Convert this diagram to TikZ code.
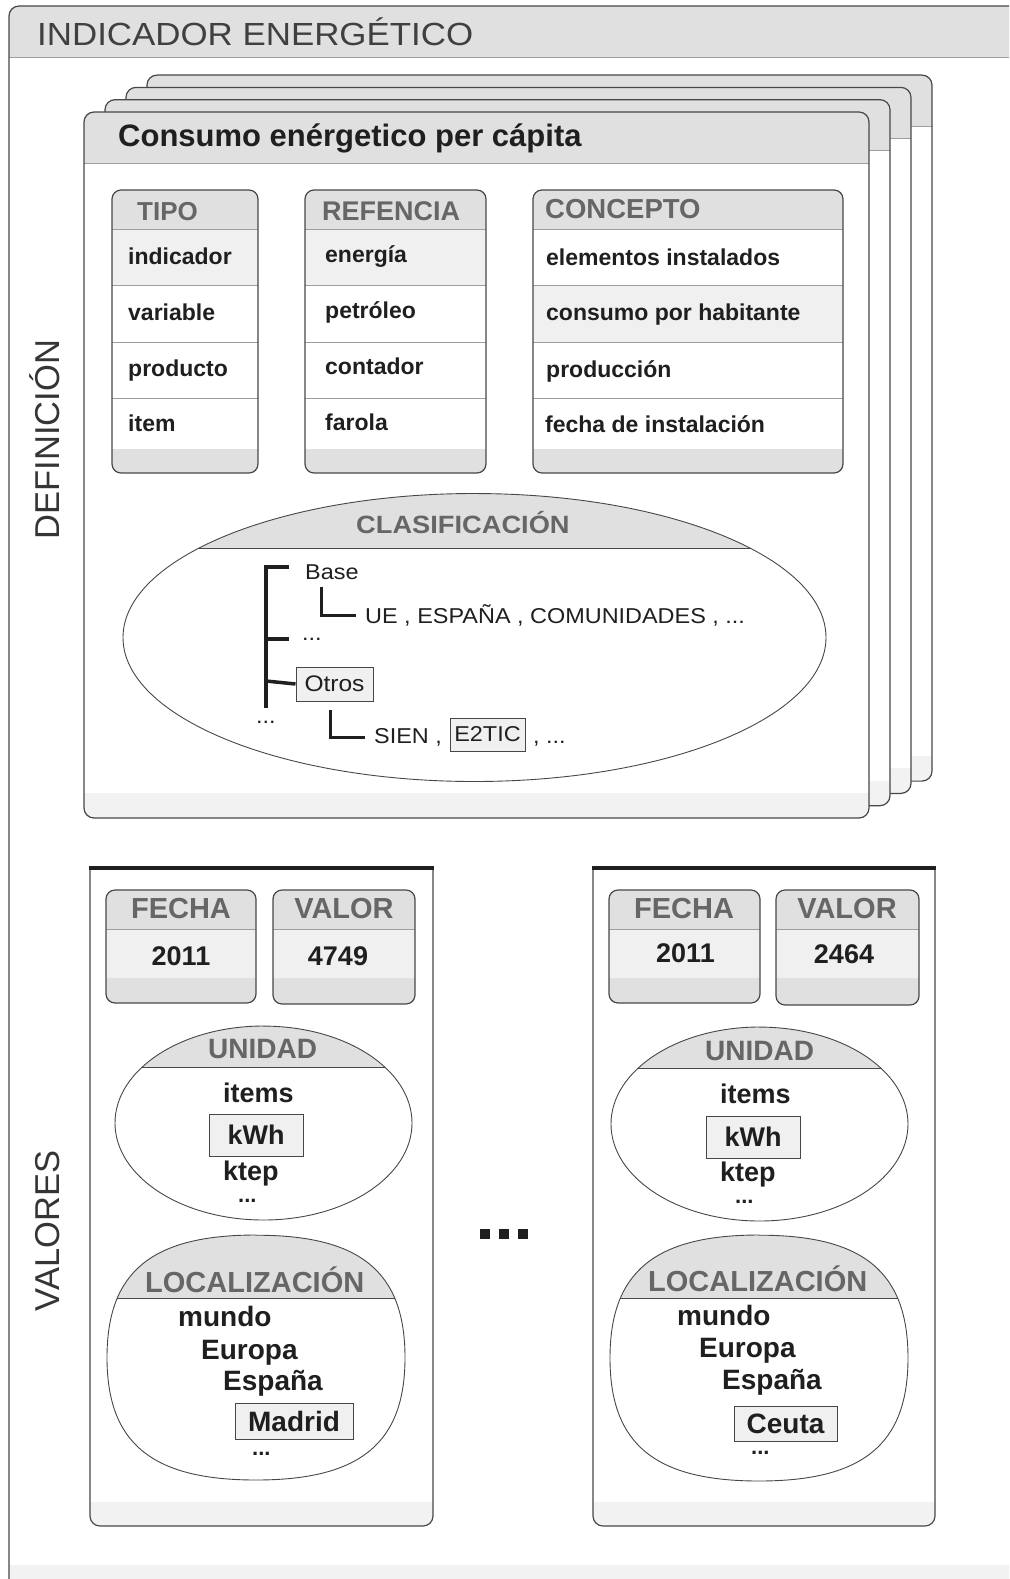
\documentclass[tikz,border=0pt]{standalone}
\usepackage{fontspec}
\setmainfont{Liberation Sans}
\newfontfamily\widefont[FakeStretch=1.09]{Liberation Sans}
\newcommand\fsz[1]{\fontsize{#1}{#1}\selectfont}

\definecolor{band}{gray}{0.88}
\definecolor{lightrow}{gray}{0.94}
\definecolor{foot}{gray}{0.95}
\definecolor{edge}{gray}{0.28}
\definecolor{sepgray}{gray}{0.62}
\definecolor{headgray}{gray}{0.40}
\definecolor{ink}{gray}{0.12}

% rounded table: left, right, highlighted row top, highlighted row bottom
\newcommand\tablebox[4]{%
  \begin{scope}
    \clip[rounded corners=9pt] (#1,190) rectangle (#2,473);
    \fill[white] (#1,190) rectangle (#2,473);
    \fill[band] (#1,190) rectangle (#2,229);
    \fill[lightrow] (#1,#3) rectangle (#2,#4);
    \fill[band] (#1,449) rectangle (#2,473);
  \end{scope}
  \foreach \yy in {229,285,342,398} \draw[sepline] (#1,\yy) -- (#2,\yy);
  \draw[frame, rounded corners=9pt] (#1,190) rectangle (#2,473);
}

% small value table: left, right, bottom
\newcommand\valuebox[3]{%
  \begin{scope}
    \clip[rounded corners=9pt] (#1,890) rectangle (#2,#3);
    \fill[band] (#1,890) rectangle (#2,929);
    \fill[lightrow] (#1,929) rectangle (#2,978);
    \fill[band] (#1,978) rectangle (#2,#3);
  \end{scope}
  \draw[sepline] (#1,929) -- (#2,929);
  \draw[frame, rounded corners=9pt] (#1,890) rectangle (#2,#3);
}

% open-topped value panel: left, right
\newcommand\valuepanel[2]{%
  \begin{scope}
    \clip[rounded corners=10pt] (#1,860) rectangle (#2,1526);
    \fill[white] (#1,860) rectangle (#2,1526);
    \fill[foot] (#1,1502) rectangle (#2,1526);
  \end{scope}
  \draw[frame, rounded corners=10pt] (#1,868) -- (#1,1526) -- (#2,1526) -- (#2,868);
  \draw[draw=ink, line width=3.5pt] (#1-1,868) -- (#2+1,868);
}

% oval with a grey title cap: name, cx, cy, rx, ry, kappa, cap line y
\newcommand\capoval[7]{%
  \coordinate (#1) at (#2,#3);
  \begin{scope}[shift={(#2,#3)}, xscale=#4, yscale=#5]
    \fill[white] (0,-1) .. controls (-#6,-1) and (-1,-#6) .. (-1,0)
      .. controls (-1,#6) and (-#6,1) .. (0,1)
      .. controls (#6,1) and (1,#6) .. (1,0)
      .. controls (1,-#6) and (#6,-1) .. cycle;
    \begin{scope}
      \clip (0,-1) .. controls (-#6,-1) and (-1,-#6) .. (-1,0)
        .. controls (-1,#6) and (-#6,1) .. (0,1)
        .. controls (#6,1) and (1,#6) .. (1,0)
        .. controls (1,-#6) and (#6,-1) .. cycle;
      \fill[band] (-1.2,-1.2) rectangle (1.2,{(#7-#3)/#5});
      \draw[edge, line width=1pt] (-1.2,{(#7-#3)/#5}) -- (1.2,{(#7-#3)/#5});
    \end{scope}
    \draw[edge, line width=0.9pt] (0,-1) .. controls (-#6,-1) and (-1,-#6) .. (-1,0)
      .. controls (-1,#6) and (-#6,1) .. (0,1)
      .. controls (#6,1) and (1,#6) .. (1,0)
      .. controls (1,-#6) and (#6,-1) .. cycle;
  \end{scope}
}

\begin{document}
\begin{tikzpicture}[x=1pt, y=-1pt,
  frame/.style={draw=edge, line width=1.2pt},
  sepline/.style={draw=sepgray, line width=0.9pt},
  lbl/.style={inner sep=0, anchor=base west, text=ink},
  rowtxt/.style={lbl, font=\bfseries\fsz{23}},
  valtxt/.style={lbl, font=\bfseries\fsz{27}},
  loctxt/.style={lbl, font=\bfseries\fsz{28}},
  headtxt/.style={inner sep=0, anchor=base west, text=headgray, font=\bfseries\fsz{#1}},
  cltxt/.style={lbl, font=\widefont\fsz{21.5}},
  markbox/.style={draw=edge, fill=lightrow, line width=1pt, inner sep=0},
  tree/.style={draw=ink, line width=3.5pt},
  treethin/.style={draw=ink, line width=3pt},
  sidetxt/.style={inner sep=0, rotate=90, anchor=base, text=ink!90, font=\fsz{34.5}}
]
\useasboundingbox (0,0) rectangle (1009,1579);
\clip (0,0) rectangle (1009,1579);

% ---------- outer panel ----------
\begin{scope}
  \clip[rounded corners=10pt] (9,6) rectangle (1040,1610);
  \fill[white] (9,6) rectangle (1040,1610);
  \fill[band] (9,6) rectangle (1040,57);
  \fill[foot] (9,1565) rectangle (1040,1610);
\end{scope}
\draw[sepline] (9,57) -- (1040,57);
\draw[frame, rounded corners=10pt] (9,6) rectangle (1040,1610);
\node[lbl, text=ink!85, font=\widefont\fsz{32}] (maintitle) at (37,46) {INDICADOR ENERGÉTICO};

\node[sidetxt] (definicion) at (59,439.5) {DEFINICIÓN};
\node[sidetxt] (valores) at (59,1231) {VALORES};

% ---------- stack of definition cards ----------
\foreach \k in {3,2,1,0} {
  \begin{scope}[shift={(21*\k,-12.3*\k)}]
    \begin{scope}
      \clip[rounded corners=10pt] (84,112) rectangle (869,818);
      \fill[white] (84,112) rectangle (869,818);
      \fill[band] (84,112) rectangle (869,163);
      \fill[foot] (84,793) rectangle (869,818);
    \end{scope}
    \draw[sepline] (84,163) -- (869,163);
    \draw[frame, rounded corners=10pt] (84,112) rectangle (869,818);
  \end{scope}
}
\node[lbl, font=\bfseries\fsz{31}] (cardtitle) at (118,146) {Consumo enérgetico per cápita};

% ---------- attribute tables ----------
\tablebox{112}{258}{229}{285}
\tablebox{305}{486}{229}{285}
\tablebox{533}{843}{285}{342}

\node[headtxt=26] (tipo) at (137,220) {TIPO};
\node[rowtxt] (t1) at (128,264) {indicador};
\node[rowtxt] (t2) at (128,320) {variable};
\node[rowtxt] (t3) at (128,376) {producto};
\node[rowtxt] (t4) at (128,431) {item};

\node[headtxt=27] (refencia) at (322,220) {REFENCIA};
\node[rowtxt] (r1) at (325,262) {energía};
\node[rowtxt] (r2) at (325,318) {petróleo};
\node[rowtxt] (r3) at (325,374) {contador};
\node[rowtxt] (r4) at (325,430) {farola};

\node[headtxt=27.5] (concepto) at (545,218) {CONCEPTO};
\node[rowtxt] (c1) at (546,265) {elementos instalados};
\node[rowtxt] (c2) at (546,320) {consumo por habitante};
\node[rowtxt] (c3) at (546,377) {producción};
\node[rowtxt] (c4) at (545,432) {fecha de instalación};

% ---------- classification ----------
\capoval{clas}{474.5}{637.5}{351.5}{144}{0.5523}{548}
\node[lbl, text=headgray, font=\widefont\bfseries\fsz{25}] (clastitle) at (356,533) {CLASIFICACIÓN};

\node[cltxt] (base) at (305,579) {Base};
\node[cltxt] (ue) at (365,623) {UE , ESPAÑA , COMUNIDADES , ...};
\node[cltxt] (dots1) at (302,640) {...};
\node[markbox, minimum width=77pt, minimum height=34pt, font=\widefont\fsz{22.5}, text=ink] (otros) at (334.5,684) {Otros};
\node[cltxt] (dots2) at (256,723) {...};
\node[cltxt] (sien) at (374,743) {SIEN ,};
\node[markbox, minimum width=75pt, minimum height=33pt, font=\widefont\fsz{21.5}, text=ink] (e2tic) at (487.5,734.5) {E2TIC};
\node[cltxt] (dots3) at (533,743) {, ...};

\coordinate (trunkA) at (289,567);
\coordinate (trunkTop) at (266,567);
\coordinate (trunkBot) at (266,708);
\coordinate (trunkMid) at (266,639);
\coordinate (trunkMidEnd) at (289,639);
\coordinate (trunkLow) at (266,681);
\draw[tree] (trunkA) -- (trunkTop) -- (trunkBot);
\draw[tree] (trunkMid) -- (trunkMidEnd);
\draw[tree] (trunkLow) -- (otros.west);

\coordinate (baseA) at (321,587);
\coordinate (baseB) at (321,615);
\coordinate (baseC) at (356,615);
\draw[treethin] (baseA) -- (baseB) -- (baseC);
\coordinate (otrosA) at (330,710);
\coordinate (otrosB) at (330,737);
\coordinate (otrosC) at (365,737);
\draw[treethin] (otrosA) -- (otrosB) -- (otrosC);

% ---------- value panels ----------
\valuepanel{90}{433}
\valuepanel{593}{935}

\valuebox{106}{256}{1003}
\valuebox{273}{415}{1004}
\valuebox{609}{760}{1003}
\valuebox{776}{919}{1005}

\node[headtxt=29, anchor=base] (fechaL) at (181,918) {FECHA};
\node[headtxt=29, anchor=base] (valorL) at (344,918) {VALOR};
\node[valtxt, anchor=base] (anioL) at (181,965) {2011};
\node[valtxt, anchor=base] (cifraL) at (338,965) {4749};

\node[headtxt=29, anchor=base] (fechaR) at (684,918) {FECHA};
\node[headtxt=29, anchor=base] (valorR) at (847,918) {VALOR};
\node[valtxt, anchor=base] (anioR) at (685.5,962) {2011};
\node[valtxt, anchor=base] (cifraR) at (844,963) {2464};

% units
\capoval{unidL}{263.5}{1123}{148.5}{97}{0.5523}{1067}
\capoval{unidR}{759.5}{1124}{148.5}{97}{0.5523}{1068}

\node[headtxt=28] (unidadL) at (208,1058) {UNIDAD};
\node[valtxt] (itemsL) at (223,1102) {items};
\node[markbox, minimum width=94pt, minimum height=42pt, font=\bfseries\fsz{27}, text=ink] (kwhL) at (256,1135) {kWh};
\node[valtxt] (ktepL) at (223,1180) {ktep};
\node[lbl, font=\bfseries\fsz{22}] (udotsL) at (238,1202) {...};

\node[headtxt=28] (unidadR) at (705,1060) {UNIDAD};
\node[valtxt] (itemsR) at (720,1103) {items};
\node[markbox, minimum width=94pt, minimum height=42pt, font=\bfseries\fsz{27}, text=ink] (kwhR) at (753,1137) {kWh};
\node[valtxt] (ktepR) at (720,1181) {ktep};
\node[lbl, font=\bfseries\fsz{22}] (udotsR) at (735,1203) {...};

% locations
\capoval{locL}{256}{1357.5}{149}{122.5}{0.7}{1298}
\capoval{locR}{759}{1358}{149}{123}{0.7}{1298}

\node[headtxt=29] (localL) at (145,1292) {LOCALIZACIÓN};
\node[loctxt] (mundoL) at (178,1326) {mundo};
\node[loctxt] (europaL) at (201,1359) {Europa};
\node[loctxt] (espanaL) at (223,1390) {España};
\node[markbox, minimum width=118pt, minimum height=36pt, font=\bfseries\fsz{28}, text=ink] (madrid) at (294,1421) {Madrid};
\node[lbl, font=\bfseries\fsz{22}] (ldotsL) at (252,1455) {...};

\node[headtxt=29] (localR) at (648,1291) {LOCALIZACIÓN};
\node[loctxt] (mundoR) at (677,1325) {mundo};
\node[loctxt] (europaR) at (699,1357) {Europa};
\node[loctxt] (espanaR) at (722,1389) {España};
\node[markbox, minimum width=103pt, minimum height=35pt, font=\bfseries\fsz{28}, text=ink] (ceuta) at (785.5,1423.5) {Ceuta};
\node[lbl, font=\bfseries\fsz{22}] (ldotsR) at (751,1454) {...};

% ellipsis between the panels
\foreach \xx in {480,499,518} \fill[ink] (\xx,1229) rectangle ++(10,10);
\end{tikzpicture}
\end{document}
